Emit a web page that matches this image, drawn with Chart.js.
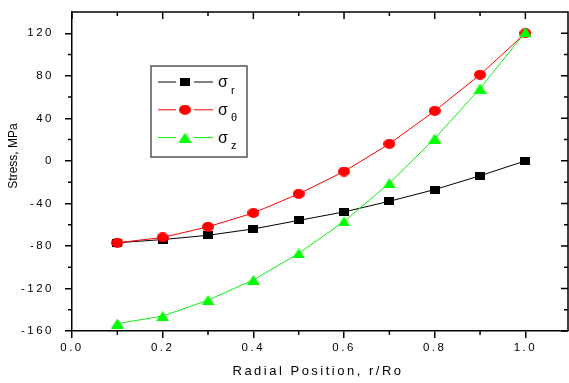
<!DOCTYPE html>
<html>
<head>
<meta charset="utf-8">
<script src="https://cdn.jsdelivr.net/npm/chart.js@4.4.1/dist/chart.umd.min.js"></script>
<style>
  html, body { margin: 0; padding: 0; background: #fff; }
  #wrap { width: 569px; height: 383px; }
</style>
</head>
<body>
<div id="wrap"><canvas id="chart-1"></canvas></div>
<script>
// radial position r/Ro and the three stress components (MPa)
const positions = [0.1, 0.2, 0.3, 0.4, 0.5, 0.6, 0.7, 0.8, 0.9, 1.0];
const sigmaR = [-77, -74, -70, -64, -56, -48, -38, -27, -14, 0];
const sigmaTheta = [-77, -72, -62, -49, -31, -10, 16, 47, 81, 120];
const sigmaZ = [-153, -146, -131, -112, -87, -57, -21, 21, 68, 121];
const seriesSubs = ['r', 'θ', 'z'];
const xTicks = [0, 0.2, 0.4, 0.6, 0.8, 1.0];
const xMinor = [0.1, 0.3, 0.5, 0.7, 0.9];
const yTicks = [-160, -120, -80, -40, 0, 40, 80, 120];
const yMinor = [-140, -100, -60, -20, 20, 60, 100];

const FONT = "'Liberation Sans', Arial, sans-serif";

// little canvases used as point styles (markers are a bit wider than tall)
function marker(w, h, paint) {
  const c = document.createElement('canvas');
  c.width = w; c.height = h;
  paint(c.getContext('2d'), w, h);
  return c;
}
const squareMark = marker(10, 8, (g, w, h) => {
  g.fillStyle = '#000';
  g.fillRect(0, 0, w, h);
});
const circleMark = marker(12, 10, (g, w, h) => {
  g.fillStyle = '#ff0000';
  g.beginPath();
  g.ellipse(w / 2, h / 2, w / 2, h / 2, 0, 0, Math.PI * 2);
  g.fill();
});
const triangleMark = marker(13, 10, (g, w, h) => {
  g.fillStyle = '#00ff00';
  g.beginPath();
  g.moveTo(w / 2, 0);
  g.lineTo(w, h);
  g.lineTo(0, h);
  g.closePath();
  g.fill();
});

function toPoints(values) {
  return positions.map((x, i) => ({ x: x, y: values[i] }));
}

// spaced-out tick labels like the old plotting package
const spacing = {
  id: 'spacing',
  beforeDraw(chart) { chart.ctx.letterSpacing = '2.5px'; },
  afterDraw(chart) { chart.ctx.letterSpacing = '0px'; }
};

// top/right frame plus all the minor ticks
const frameTicks = {
  id: 'frameTicks',
  beforeDatasetsDraw(chart) {
    const ctx = chart.ctx;
    const { left, right, top, bottom } = chart.chartArea;
    const xs = chart.scales.x, ys = chart.scales.y;
    ctx.save();
    ctx.strokeStyle = '#000';
    ctx.lineWidth = 1.5;
    ctx.beginPath();
    ctx.moveTo(left, top); ctx.lineTo(right, top); ctx.lineTo(right, bottom);
    const tick = (x1, y1, x2, y2) => { ctx.moveTo(x1, y1); ctx.lineTo(x2, y2); };
    xTicks.forEach(v => { const px = xs.getPixelForValue(v); tick(px, top, px, top + 7); });
    xMinor.forEach(v => {
      const px = xs.getPixelForValue(v);
      tick(px, top, px, top + 4);
      tick(px, bottom, px, bottom + 4);
    });
    yTicks.forEach(v => { const py = ys.getPixelForValue(v); tick(right, py, right - 7, py); });
    yMinor.forEach(v => {
      const py = ys.getPixelForValue(v);
      tick(right, py, right - 4, py);
      tick(left, py, left - 4, py);
    });
    ctx.stroke();
    ctx.restore();
  }
};

// axis titles
const axisTitles = {
  id: 'axisTitles',
  afterDraw(chart) {
    const ctx = chart.ctx;
    ctx.save();
    ctx.fillStyle = '#000';
    ctx.textAlign = 'center';
    ctx.textBaseline = 'middle';
    ctx.letterSpacing = '2.5px';
    ctx.font = '13px ' + FONT;
    ctx.fillText('Radial Position, r/Ro', 318, 371);
    ctx.letterSpacing = '0px';
    ctx.font = '12px ' + FONT;
    ctx.translate(14, 156);
    ctx.rotate(-Math.PI / 2);
    ctx.fillText('Stress, MPa', 0, 0);
    ctx.restore();
  }
};

// boxed legend: line - marker - line, sigma with subscript
const legendBox = {
  id: 'legendBox',
  afterDraw(chart) {
    const ctx = chart.ctx;
    const sets = chart.data.datasets;
    ctx.save();
    ctx.letterSpacing = '0px';
    ctx.fillStyle = '#fff';
    ctx.fillRect(151, 66, 96, 91);
    ctx.strokeStyle = '#555';
    ctx.lineWidth = 1.5;
    ctx.strokeRect(151, 66, 96, 91);
    sets.forEach((ds, i) => {
      const y = 82 + i * 27.8;
      ctx.strokeStyle = ds.borderColor;
      ctx.lineWidth = 1;
      ctx.beginPath();
      ctx.moveTo(158, y); ctx.lineTo(176, y);
      ctx.moveTo(194, y); ctx.lineTo(213, y);
      ctx.stroke();
      const m = ds.pointStyle;
      ctx.drawImage(m, 185 - m.width / 2, y - m.height / 2);
      ctx.fillStyle = '#000';
      ctx.textAlign = 'left';
      ctx.textBaseline = 'alphabetic';
      ctx.font = '16px ' + FONT;
      ctx.fillText('σ', 218, y + 5);
      ctx.font = '11px ' + FONT;
      ctx.fillText(seriesSubs[i], 231, y + 11.5);
    });
    ctx.restore();
  }
};

function lineSet(label, values, color, mark, order) {
  return {
    label: label,
    data: toPoints(values),
    borderColor: color,
    borderWidth: 1,
    pointStyle: mark,
    // marker size comes from the image; keep the radius tiny so the
    // layout does not reserve extra room around the plot
    pointRadius: 0.5,
    pointBorderWidth: 0,
    pointHoverRadius: 0.5,
    tension: 0,
    fill: false,
    order: order
  };
}

const chart = new Chart(document.getElementById('chart-1'), {
  type: 'line',
  data: {
    datasets: [
      lineSet('σr', sigmaR, '#000000', squareMark, 3),
      lineSet('σθ', sigmaTheta, '#ff0000', circleMark, 2),
      lineSet('σz', sigmaZ, '#11ee11', triangleMark, 1)
    ]
  },
  options: {
    responsive: true,
    maintainAspectRatio: false,
    animation: false,
    layout: { padding: { top: 12, right: 1, left: 0, bottom: 0 } },
    plugins: {
      legend: { display: false },
      tooltip: { enabled: false }
    },
    scales: {
      x: {
        type: 'linear',
        min: 0,
        max: 1.094,
        afterBuildTicks: (scale) => { scale.ticks = xTicks.map(v => ({ value: v })); },
        afterFit: (scale) => {
          scale.height = 52;
          scale.paddingLeft = 0;
          scale.paddingRight = 0;
        },
        ticks: {
          color: '#000',
          padding: 3,
          maxRotation: 0,
          font: { family: FONT, size: 11.5 },
          callback: (v) => v.toFixed(1)
        },
        grid: { drawOnChartArea: false, drawTicks: true, tickLength: 7, color: '#000', lineWidth: 1.5 },
        border: { display: true, color: '#000', width: 1.5 }
      },
      y: {
        type: 'linear',
        min: -160,
        max: 140,
        afterBuildTicks: (scale) => { scale.ticks = yTicks.map(v => ({ value: v })); },
        afterFit: (scale) => {
          scale.width = 72;
          scale.paddingTop = 0;
          scale.paddingBottom = 0;
        },
        ticks: {
          color: '#000',
          padding: 11,
          font: { family: FONT, size: 11.5 }
        },
        grid: { drawOnChartArea: false, drawTicks: true, tickLength: 7, color: '#000', lineWidth: 1.5 },
        border: { display: true, color: '#000', width: 1.5 }
      }
    }
  },
  plugins: [spacing, frameTicks, axisTitles, legendBox]
});
</script>
</body>
</html>
